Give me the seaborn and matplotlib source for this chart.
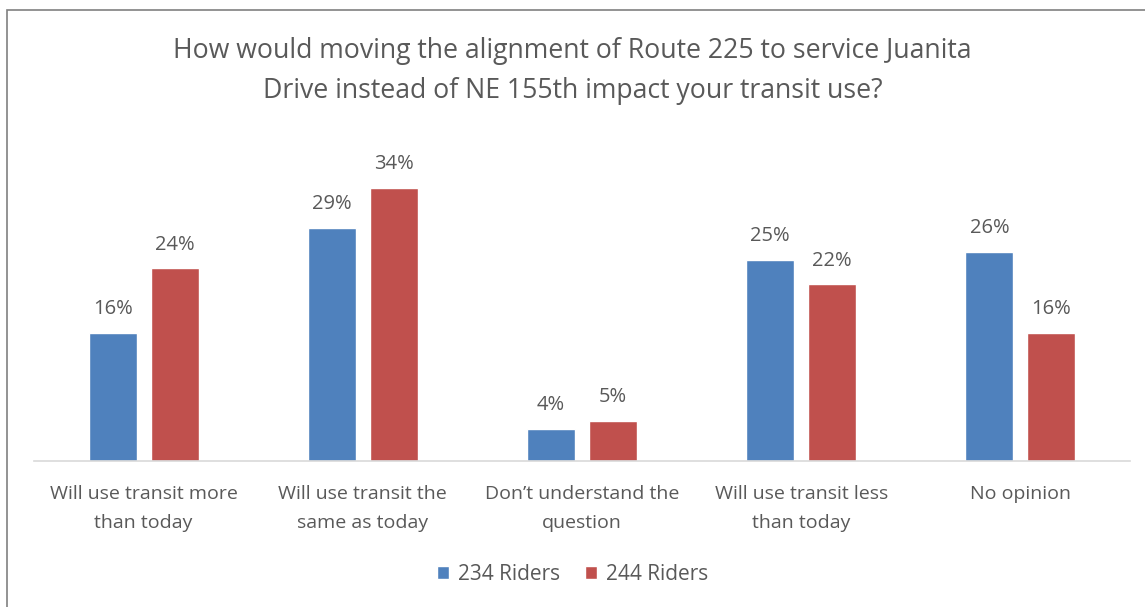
import matplotlib
matplotlib.use("Agg")
import matplotlib.pyplot as plt
from matplotlib.patches import Rectangle
import seaborn as sns
import pandas as pd

categories = [
    "Will use transit more\nthan today",
    "Will use transit the\nsame as today",
    "Don\u2019t understand the\nquestion",
    "Will use transit less\nthan today",
    "No opinion",
]
series_names = ["234 Riders", "244 Riders"]
riders_234 = [16, 29, 4, 25, 26]
riders_244 = [24, 34, 5, 22, 16]
colors = ["#4F81BD", "#C0504D"]
title = ("How would moving the alignment of Route 225 to service Juanita\n"
         "Drive instead of NE 155th impact your transit use?")

df = pd.DataFrame({
    "category": categories * 2,
    "series": [series_names[0]] * len(categories) + [series_names[1]] * len(categories),
    "value": riders_234 + riders_244,
})

sns.set_theme(style="white")
plt.rcParams["font.family"] = ["Open Sans", "DejaVu Sans"]
text_color = "#595959"

fig = plt.figure(figsize=(11.45, 6.07), dpi=100)
ax = fig.add_axes([34 / 1145, (607 - 461) / 607, (1130 - 34) / 1145, (461 - 140) / 607])

sns.barplot(data=df, x="category", y="value", hue="series", order=categories,
            hue_order=series_names, palette=colors, width=0.566, gap=0.226,
            saturation=1, ax=ax, legend=True)

for container in ax.containers:
    ax.bar_label(container, labels=[f"{int(v)}%" for v in container.datavalues],
                 padding=10, fontsize=14.5, color=text_color)

ax.set_ylim(0, 40)
ax.set_xlim(-0.5, len(categories) - 0.5)
ax.set_xlabel("")
ax.set_ylabel("")
ax.set_yticks([])
ax.tick_params(axis="x", length=0, pad=17, labelsize=14, labelcolor=text_color)
for lbl in ax.get_xticklabels():
    lbl.set_linespacing(1.8)
for side in ["top", "right", "left"]:
    ax.spines[side].set_visible(False)
ax.spines["bottom"].set_color("#D9D9D9")
ax.spines["bottom"].set_linewidth(1.2)

fig.text(0.5, 1 - 71 / 607, title, ha="center", va="center", fontsize=19.2,
         color=text_color, linespacing=1.6)

leg = ax.legend(loc="center", bbox_to_anchor=(0.5, (607 - 574) / 607), bbox_transform=fig.transFigure,
                ncol=2, frameon=False, fontsize=15, handlelength=0.6, handleheight=0.6,
                handletextpad=0.4, columnspacing=1.2)
for t in leg.get_texts():
    t.set_color(text_color)

# outer frame around the chart area
fig.patches.append(Rectangle((7 / 1145, -0.05), 1.1, 1 - 10 / 607 + 0.05,
                             transform=fig.transFigure, fill=False,
                             edgecolor="#808080", linewidth=1.2))

fig.savefig("out.png", dpi=100)
